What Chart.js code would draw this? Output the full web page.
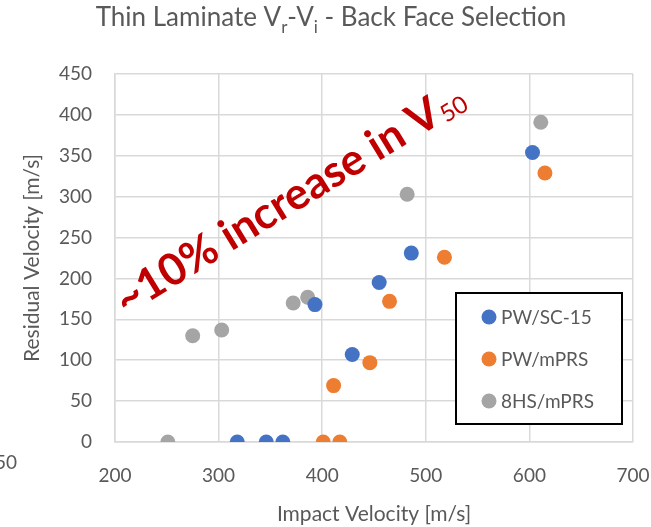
<!DOCTYPE html>
<html>
<head>
<meta charset="utf-8">
<script src="https://cdn.jsdelivr.net/npm/chart.js@4.4.1/dist/chart.umd.min.js"></script>
<style>
  html, body { margin: 0; padding: 0; background: #fff; }
  #wrap { position: relative; width: 651px; height: 527px; }
</style>
</head>
<body>
<div id="wrap"><canvas id="chart"></canvas></div>
<script>
// data: [impact velocity, residual velocity]
const seriesNames = ['PW/SC-15', 'PW/mPRS', '8HS/mPRS'];
const seriesColors = ['#4472C4', '#ED7D31', '#A5A5A5'];

const pwSc15Vi = [318, 346, 362, 393, 429, 455, 486, 603];
const pwSc15Vr = [0, 0, 0, 168, 107, 195, 231, 354];

const pwMprsVi = [401, 417, 411, 446, 465, 518, 615];
const pwMprsVr = [0, 0, 69, 97, 172, 226, 329];

const hs8MprsVi = [251, 275, 303, 372, 386, 482, 611];
const hs8MprsVr = [0, 130, 137, 170, 177, 303, 391];

const xTicks = [200, 300, 400, 500, 600, 700];
const yTicks = [0, 50, 100, 150, 200, 250, 300, 350, 400, 450];

const FONT = 'Lato, "Open Sans", sans-serif';
const TEXT = '#595959';
const GRID = '#D9D9D9';

const toPoints = (xs, ys) => xs.map((x, i) => ({ x: x, y: ys[i] }));
const allVi = [pwSc15Vi, pwMprsVi, hs8MprsVi];
const allVr = [pwSc15Vr, pwMprsVr, hs8MprsVr];

const datasets = seriesNames.map((name, i) => ({
  label: name,
  data: toPoints(allVi[i], allVr[i]),
  backgroundColor: seriesColors[i],
  borderWidth: 0,
  pointRadius: 7.5,
  pointHoverRadius: 7.5,
}));

// title with subscripts, drawn by hand
const titlePlugin = {
  id: 'subTitle',
  afterDraw(chart) {
    const ctx = chart.ctx;
    const parts = [
      ['Thin Laminate V', false], ['r', true], ['-V', false], ['i', true], [' - Back Face Selection', false],
    ];
    const big = '26px ' + FONT, small = '17px ' + FONT;
    ctx.save();
    ctx.fillStyle = TEXT;
    ctx.textBaseline = 'alphabetic';
    let w = 0;
    parts.forEach(p => { ctx.font = p[1] ? small : big; w += ctx.measureText(p[0]).width; });
    let x = 331 - w / 2;
    parts.forEach(p => {
      ctx.font = p[1] ? small : big;
      ctx.fillText(p[0], x, p[1] ? 33 : 26);
      x += ctx.measureText(p[0]).width;
    });
    ctx.restore();
  }
};

// rotated red note plus the cut-off label at the left edge
const notePlugin = {
  id: 'note',
  afterDraw(chart) {
    const ctx = chart.ctx;
    ctx.save();
    ctx.translate(126, 316);
    ctx.rotate(-31.5 * Math.PI / 180);
    ctx.fillStyle = '#C00000';
    ctx.font = 'bold 44px ' + FONT;
    const main = '~10% increase in V';
    ctx.fillText(main, 0, 0);
    const w = ctx.measureText(main).width;
    ctx.font = '24px ' + FONT;
    ctx.fillText('50', w + 1, 3);
    ctx.restore();

    ctx.save();
    ctx.fillStyle = TEXT;
    ctx.font = '19px ' + FONT;
    ctx.textAlign = 'right';
    ctx.textBaseline = 'middle';
    ctx.fillText('250', 17, 463);
    ctx.restore();
  }
};

// boxed legend inside the plot
const legendPlugin = {
  id: 'boxLegend',
  afterDraw(chart) {
    const ctx = chart.ctx;
    const a = chart.chartArea;
    const left = a.right - 177, top = a.bottom - 149, w = 166, h = 131;
    ctx.save();
    ctx.fillStyle = '#fff';
    ctx.fillRect(left, top, w, h);
    ctx.strokeStyle = '#000';
    ctx.lineWidth = 2;
    ctx.strokeRect(left, top, w, h);
    ctx.font = '19px ' + FONT;
    ctx.textBaseline = 'middle';
    chart.data.datasets.forEach((ds, i) => {
      const cy = top + 24 + i * 42;
      ctx.fillStyle = ds.backgroundColor;
      ctx.beginPath();
      ctx.arc(left + 33, cy, 7.5, 0, Math.PI * 2);
      ctx.fill();
      ctx.fillStyle = TEXT;
      ctx.fillText(ds.label, left + 45, cy + 1);
    });
    ctx.restore();
  }
};

new Chart(document.getElementById('chart'), {
  type: 'scatter',
  data: { datasets: datasets },
  plugins: [titlePlugin, notePlugin, legendPlugin],
  options: {
    responsive: true,
    maintainAspectRatio: false,
    animation: false,
    devicePixelRatio: 1,
    layout: { padding: { top: 74, right: 0, left: 0, bottom: 0 } },
    plugins: {
      legend: { display: false },
      title: { display: false },
      tooltip: { enabled: false },
    },
    scales: {
      x: {
        type: 'linear',
        min: 200,
        max: 700,
        afterBuildTicks: (s) => { s.ticks = xTicks.map(v => ({ value: v })); },
        afterFit: (s) => { s.height = 85; s.paddingRight = 18; },
        grid: { color: GRID, lineWidth: 1.5, drawTicks: false },
        border: { color: GRID, width: 1.5 },
        ticks: { color: TEXT, font: { family: FONT, size: 19 }, padding: 22 },
        title: { display: true, text: 'Impact Velocity [m/s]', color: TEXT,
                 font: { family: FONT, size: 21 }, padding: { top: 2, bottom: 0 } },
      },
      y: {
        type: 'linear',
        min: 0,
        max: 450,
        afterBuildTicks: (s) => { s.ticks = yTicks.map(v => ({ value: v })); },
        afterFit: (s) => { s.width = 115; },
        grid: { color: GRID, lineWidth: 1.5, drawTicks: false },
        border: { color: GRID, width: 1.5 },
        ticks: { color: TEXT, font: { family: FONT, size: 19 }, padding: 23 },
        title: { display: true, text: 'Residual Velocity [m/s]', color: TEXT,
                 font: { family: FONT, size: 21 }, padding: { top: 20, bottom: 0 } },
      },
    },
  },
});
</script>
</body>
</html>
